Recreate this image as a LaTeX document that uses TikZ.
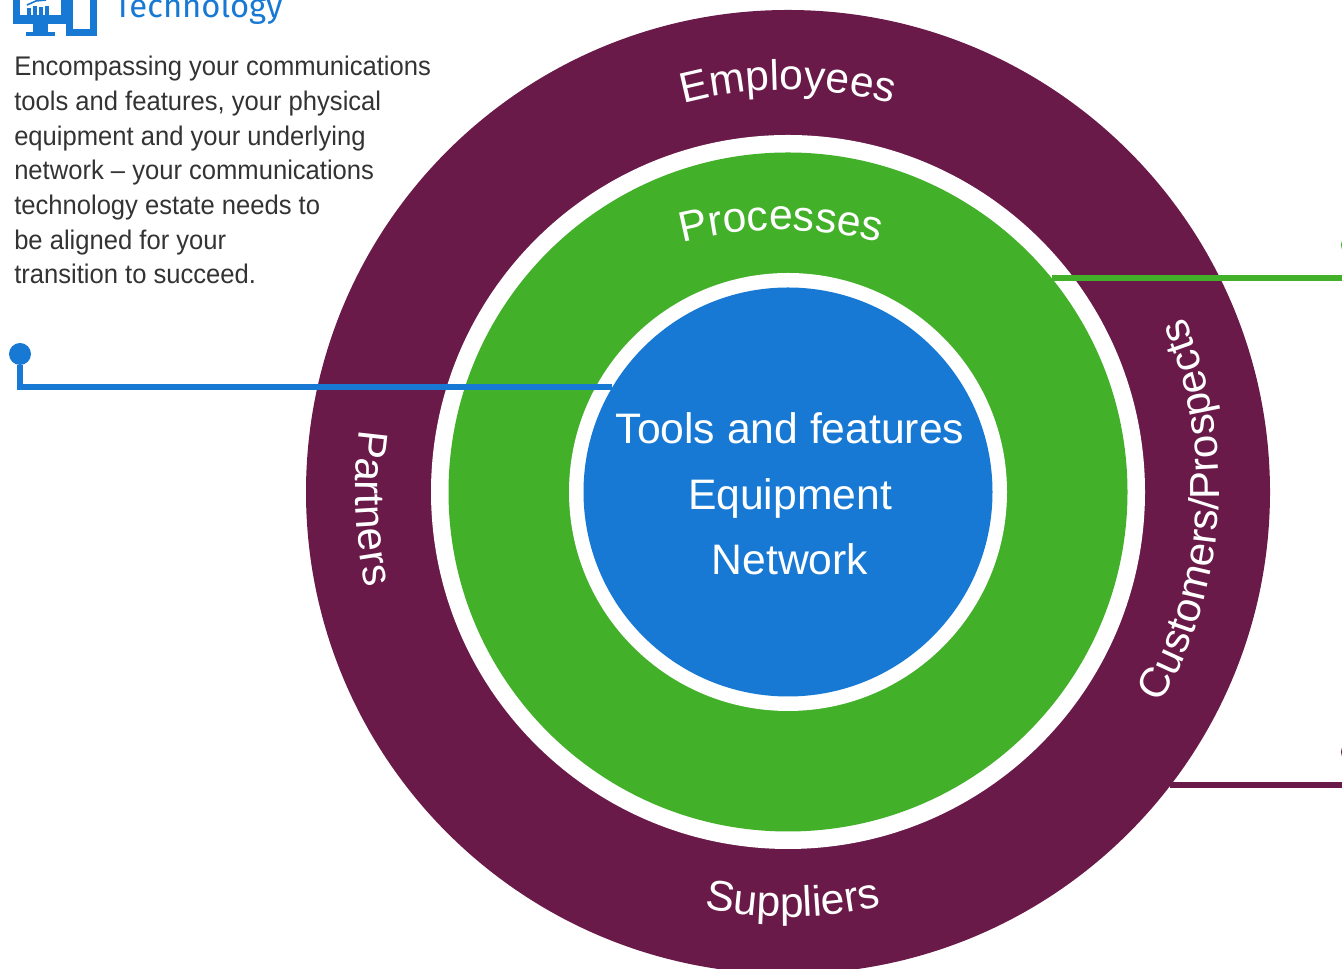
\documentclass[tikz,border=0pt]{standalone}
\usepackage{fontspec}
\setmainfont{Liberation Sans}
\newfontfamily\headfont{Fira Sans}
\newfontfamily\bodyfont[FakeStretch=0.95]{Liberation Sans}
\usetikzlibrary{decorations.text}
\definecolor{plum}{HTML}{6A1A48}
\definecolor{leaf}{HTML}{43B02A}
\definecolor{sky}{HTML}{1779D3}
\definecolor{bodygrey}{HTML}{333333}
\newcommand{\ringlabel}[6]{% centre, radius, start, end, text, size
  \path[postaction={decorate,decoration={text along path,text align=center,
    text={|\fontsize{#6}{#6}\selectfont\color{white}|#5}}}]
    (#1) ++(#3:#2*0.75pt) arc[start angle=#3,end angle=#4,radius=#2*0.75pt];}
\tikzset{
  disc/.style={circle,inner sep=0pt,outer sep=0pt,minimum size=#1*0.75pt},
  wire/.style={line width=4pt,line join=miter,line cap=butt},
  dotend/.style={circle,inner sep=0pt,outer sep=0pt,minimum size=16.5pt,fill=#1},
  centretext/.style={text=white,font=\fontsize{32pt}{32pt}\selectfont,inner sep=0pt,anchor=base},
}
\begin{document}
\begin{tikzpicture}[x=0.75pt,y=0.75pt]
\useasboundingbox (0,0) rectangle (1342,969);
\coordinate (centre) at (788,477);
\coordinate (procCentre) at (781,349);
\coordinate (custCentre) at (788,482);
\node[disc=964,fill=plum] (outer) at (centre) {};
\node[disc=714,fill=white] (gapA) at (centre) {};
\node[disc=679,fill=leaf] (mid) at (centre) {};
\node[disc=438,fill=white] (gapB) at (centre) {};
\node[disc=409,fill=sky] (core) at (centre) {};
% connectors
\node[dotend=sky] (dotB) at (20,615) {};
\coordinate (elbowB) at (20,582);
\coordinate (endB) at (612,582);
\draw[wire,sky] (dotB) -- (elbowB) -- (endB);
\node[dotend=leaf] (dotG) at (1352,724) {};
\coordinate (elbowG) at (1352,691);
\coordinate (endG) at (1052,691);
\draw[wire,leaf] (dotG) -- (elbowG) -- (endG);
\node[dotend=plum] (dotP) at (1352,217) {};
\coordinate (elbowP) at (1352,184);
\coordinate (endP) at (1170,184);
\draw[wire,plum] (dotP) -- (elbowP) -- (endP);
% core text
\node[centretext] (t1) at (790,525) {Tools and features};
\node[centretext] (t2) at (790,459) {Equipment};
\node[centretext] (t3) at (790,394) {Network};
% ring labels
\ringlabel{centre}{402}{110}{70}{Employees}{32pt}
\ringlabel{procCentre}{390}{108}{72}{Processes}{32pt}
\ringlabel{centre}{425}{250.7}{290.7}{Suppliers}{32pt}
\ringlabel{custCentre}{431}{-39}{32}{Customers/Prospects}{31.5pt}
\ringlabel{centre}{432.5}{162.25}{202.25}{Partners}{31.5pt}
% body text
\node[anchor=north west,inner sep=0pt,align=left,text=bodygrey,
  font=\bodyfont\fontsize{20.2pt}{26pt}\selectfont] (body) at (14,913)
  {Encompassing your communications\\tools and features, your physical\\equipment and your underlying\\network – your communications\\technology estate needs to\\be aligned for your\\transition to succeed.};
% heading
\node[anchor=base west,inner sep=0pt,text=sky,font=\headfont\fontsize{24.6pt}{26pt}\selectfont] (head) at (114,951) {Technology};
% icon
\fill[sky] (13,945) rectangle (68,969);
\fill[sky] (33,945) rectangle (48,937);
\fill[sky] (26,937) rectangle (55,933);
\fill[white] (20,954) rectangle (61,969);
\fill[sky] (27,954) rectangle (31,961);
\fill[sky] (33,954) rectangle (37,963);
\fill[sky] (39,954) rectangle (43,962);
\fill[sky] (45,954) rectangle (49,963);
\draw[sky,line width=1.2pt] (27,964) -- (36,968) -- (46,969);
\fill[sky] (66,933) rectangle (97,969);
\fill[white] (73,940) rectangle (90,969);
\end{tikzpicture}
\end{document}
